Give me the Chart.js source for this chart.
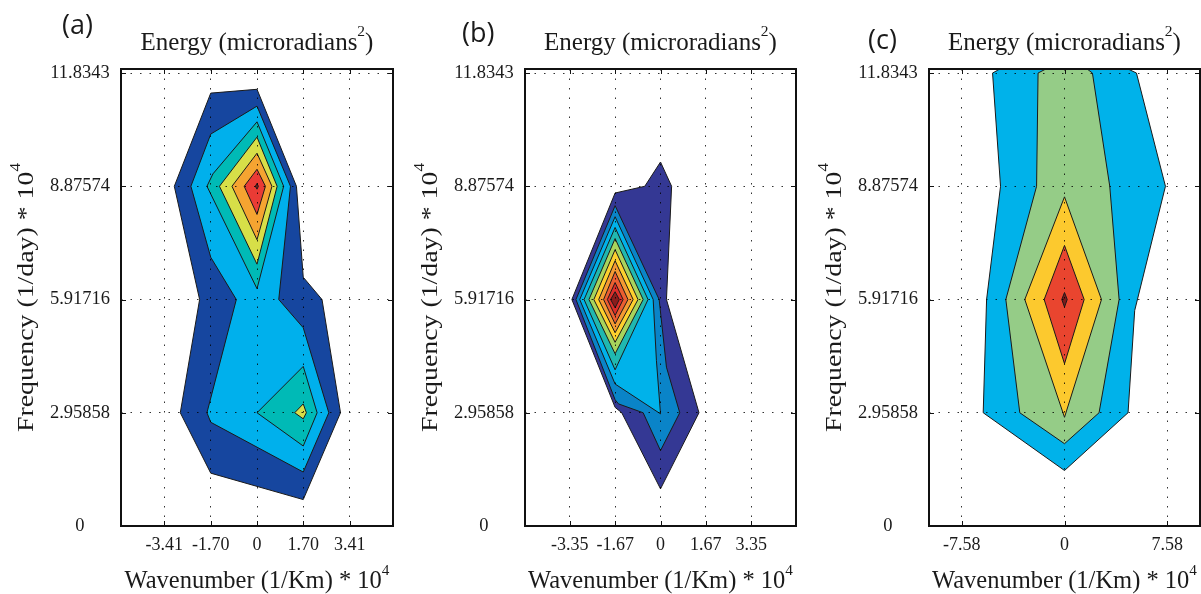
<!DOCTYPE html>
<html>
<head>
<meta charset="utf-8">
<title>Energy spectra</title>
<script src="https://cdn.jsdelivr.net/npm/chart.js@4.4.1/dist/chart.umd.min.js"></script>
<style>
  html, body { margin: 0; padding: 0; background: #ffffff; }
  body { position: relative; width: 1201px; height: 594px; overflow: hidden; }
  canvas { position: absolute; top: 0; }
</style>
</head>
<body>
<canvas id="panelA" width="400" height="594" style="left:0px"></canvas>
<canvas id="panelB" width="396" height="594" style="left:404px"></canvas>
<canvas id="panelC" width="393" height="594" style="left:808px"></canvas>
<script>
// axis ticks
const freqTicks = [0, 2.95858, 5.91716, 8.87574, 11.8343];
const freqLabels = ["0", "2.95858", "5.91716", "8.87574", "11.8343"];
const waveTicksA = [-3.41, -1.70, 0, 1.70, 3.41];
const waveLabelsA = ["-3.41", "-1.70", "0", "1.70", "3.41"];
const waveTicksB = [-3.35, -1.67, 0, 1.67, 3.35];
const waveLabelsB = ["-3.35", "-1.67", "0", "1.67", "3.35"];
const waveTicksC = [-7.58, 0, 7.58];
const waveLabelsC = ["-7.58", "0", "7.58"];

// texts
const titleParts = ["Energy (microradians", "2", ")"];
const xTitleParts = ["Wavenumber (1/Km) * 10", "4", ""];
const yTitleParts = ["Frequency (1/day) * 10", "4", ""];

// panel (a) filled contours, outer level first: [wavenumber, frequency]
const contourA1 = [[-1.70, 11.31], [0, 11.41], [1.45, 8.876], [1.70, 6.50], [2.39, 5.917], [3.07, 2.959], [1.70, 0.69], [-1.70, 1.38], [-2.82, 2.959], [-2.11, 5.917], [-3.04, 8.876]];
const contourA2 = [[0, 10.97], [-1.70, 10.24], [-2.43, 8.876], [-1.70, 7.02], [-0.76, 5.917], [-1.84, 2.959], [-1.70, 2.71], [1.70, 1.41], [2.64, 2.959], [1.70, 5.18], [0.80, 5.917], [1.23, 8.876]];
const contourA3 = [[0, 10.56], [-1.62, 9.2], [-1.84, 8.876], [0, 6.2], [0.98, 8.876]];
const contourA3b = [[1.70, 4.17], [0, 2.959], [1.70, 2.09], [2.21, 2.959]];
const contourA4 = [[0, 10.16], [-1.38, 8.876], [0, 6.84], [0.74, 8.876]];
const contourA4b = [[1.70, 3.19], [1.385, 2.959], [1.70, 2.80], [1.815, 2.959]];
const contourA5 = [[0, 9.74], [-0.92, 8.876], [0, 7.48], [0.55, 8.876]];
const contourA6 = [[0, 9.32], [-0.47, 8.876], [0, 8.14], [0.31, 8.876]];
const contourA7 = [[0, 8.95], [-0.06, 8.876], [0, 8.80], [0.05, 8.876]];

// panel (b)
const contourB1 = [[-1.675, 8.70], [-0.58, 8.876], [0, 9.51], [0.41, 8.876], [0.22, 5.917], [1.42, 2.959], [0, 0.97], [-1.43, 2.959], [-1.675, 3.10], [-3.27, 5.917]];
const contourB2 = [[-1.675, 8.37], [-3.12, 5.917], [-1.675, 3.30], [-1.55, 3.19], [-0.64, 2.959], [0, 1.97], [0.71, 2.959], [0.22, 4.15], [-0.05, 5.917]];
const contourB3 = [[-1.675, 8.08], [-2.98, 5.917], [-1.675, 3.71], [0, 2.93], [-0.15, 4.32], [-0.27, 5.917]];
const contourB4 = [[-1.675, 7.80], [-2.82, 5.917], [-1.675, 4.08], [-0.46, 5.917]];
const contourB5 = [[-1.675, 7.51], [-2.64, 5.917], [-1.675, 4.50], [-0.64, 5.917]];
const contourB6 = [[-1.675, 7.22], [-2.46, 5.917], [-1.675, 4.80], [-0.83, 5.917]];
const contourB7 = [[-1.675, 6.93], [-2.28, 5.917], [-1.675, 5.05], [-1.01, 5.917]];
const contourB8 = [[-1.675, 6.65], [-2.10, 5.917], [-1.675, 5.28], [-1.20, 5.917]];
const contourB9 = [[-1.675, 6.36], [-1.96, 5.917], [-1.675, 5.50], [-1.38, 5.917]];
const contourB10 = [[-1.675, 6.12], [-1.84, 5.917], [-1.675, 5.70], [-1.52, 5.917]];

// panel (c)
const contourC1 = [[-4.77, 11.94], [-5.31, 11.8343], [-4.72, 8.876], [-5.75, 5.917], [-6.0, 2.959], [0, 1.45], [4.69, 2.959], [5.18, 5.63], [7.45, 8.876], [5.31, 11.8343], [4.69, 11.94]];
const contourC2 = [[-1.38, 11.94], [-1.95, 11.8343], [-2.06, 8.876], [-4.33, 5.917], [-3.30, 2.959], [0, 2.15], [2.55, 2.959], [4.03, 5.917], [3.34, 8.876], [2.06, 11.8343], [1.67, 11.94]];
const contourC3 = [[0, 8.60], [-2.93, 5.917], [0, 2.84], [2.73, 5.917]];
const contourC4 = [[0, 7.33], [-1.50, 5.917], [0, 4.24], [1.45, 5.917]];
const contourC5 = [[0, 6.10], [-0.20, 5.917], [0, 5.72], [0.20, 5.917]];

const coloursA = ["#16469f", "#00b0ec", "#00bab6", "#00bab6", "#d7df48", "#d7df48", "#f5a431", "#ea3b35", "#7d1a1a"];
const coloursB = ["#343894", "#0a84c8", "#00b2ea", "#20b8b0", "#a8d45c", "#fdd02e", "#f59a32", "#ec5e30", "#dc2e2a", "#8a1c1c"];
const coloursC = ["#00b2ea", "#95cc87", "#fcc92e", "#e9452f", "#7d1a1a"];

const SERIF = '"Liberation Serif", "Times New Roman", serif';
const SANS = '"Open Sans", "Liberation Sans", sans-serif';

// text with one superscript, centred on the current origin, baseline at y=0
function drawSup(ctx, parts, size, fitWidth) {
  const mainFont = size + "px " + SERIF;
  const supFont = (size * 0.62) + "px " + SERIF;
  ctx.font = mainFont;
  const w1 = ctx.measureText(parts[0]).width;
  const w3 = ctx.measureText(parts[2]).width;
  ctx.font = supFont;
  const w2 = ctx.measureText(parts[1]).width;
  const total = w1 + w2 + w3;
  ctx.save();
  if (fitWidth) ctx.scale(fitWidth / total, 1);
  const x0 = -total / 2;
  ctx.textAlign = "left";
  ctx.textBaseline = "alphabetic";
  ctx.font = mainFont;
  ctx.fillText(parts[0], x0, 0);
  ctx.font = supFont;
  ctx.fillText(parts[1], x0 + w1, -size * 0.55);
  ctx.font = mainFont;
  if (parts[2]) ctx.fillText(parts[2], x0 + w1 + w2, 0);
  ctx.restore();
}

// box, inward ticks, titles and panel tag (matlab look)
const framePlugin = {
  id: "matlabFrame",
  afterDraw(chart, args, opts) {
    const { ctx, chartArea: a, scales: { x, y } } = chart;
    ctx.save();
    ctx.strokeStyle = "#111";
    ctx.lineWidth = 1;
    ctx.beginPath();
    x.ticks.forEach((t) => {
      const p = Math.round(x.getPixelForValue(t.value)) + 0.5;
      ctx.moveTo(p, a.bottom); ctx.lineTo(p, a.bottom - 5);
      ctx.moveTo(p, a.top); ctx.lineTo(p, a.top + 5);
    });
    y.ticks.forEach((t) => {
      const p = Math.round(y.getPixelForValue(t.value)) + 0.5;
      ctx.moveTo(a.left, p); ctx.lineTo(a.left + 5, p);
      ctx.moveTo(a.right, p); ctx.lineTo(a.right - 5, p);
    });
    ctx.stroke();
    ctx.lineWidth = 2;
    ctx.strokeRect(a.left, a.top, a.right - a.left, a.bottom - a.top);

    ctx.fillStyle = "#1a1a1a";
    const cx = (a.left + a.right) / 2;
    ctx.save(); ctx.translate(cx, 50); drawSup(ctx, opts.title, 25); ctx.restore();
    ctx.save(); ctx.translate(cx, 588); drawSup(ctx, opts.xTitle, 24.5); ctx.restore();
    ctx.save();
    ctx.translate(a.left - 88, (a.top + a.bottom) / 2);
    ctx.rotate(-Math.PI / 2);
    drawSup(ctx, opts.yTitle, 24, 269);
    ctx.restore();

    ctx.font = "27px " + SANS;
    ctx.textAlign = "left";
    ctx.textBaseline = "alphabetic";
    ctx.fillText(opts.tag, opts.tagX, opts.tagY);
    ctx.restore();
  }
};

function makePanel(id, polys, colours, xLim, xTicks, xLabels, padRight, tag, tagX, tagY) {
  const datasets = polys.map((poly, i) => ({
    data: poly.concat([poly[0]]).map(([x, y]) => ({ x: x, y: y })),
    showLine: true,
    fill: "shape",
    backgroundColor: colours[i],
    borderColor: "#1a1a1a",
    borderWidth: 1,
    pointRadius: 0,
    tension: 0,
    order: polys.length - i // outer contours drawn first
  }));

  const tickFont = { family: SERIF, size: 18 };
  new Chart(document.getElementById(id), {
    type: "scatter",
    data: { datasets: datasets },
    plugins: [framePlugin],
    options: {
      responsive: false,
      animation: false,
      events: [],
      layout: { padding: { top: 69, right: padRight, bottom: 0, left: 0 } },
      plugins: {
        legend: { display: false },
        tooltip: { enabled: false },
        matlabFrame: {
          title: titleParts, xTitle: xTitleParts, yTitle: yTitleParts,
          tag: tag, tagX: tagX, tagY: tagY
        }
      },
      scales: {
        x: {
          type: "linear",
          min: -xLim,
          max: xLim,
          grid: { color: "rgba(0,0,0,0.8)", lineWidth: 1, drawTicks: false, z: 1 },
          border: { display: false, dash: [1.5, 8] },
          afterBuildTicks: (s) => { s.ticks = xTicks.map((v) => ({ value: v })); },
          afterFit: (s) => { s.height = 68; },
          ticks: {
            padding: 8, color: "#1a1a1a", font: tickFont,
            autoSkip: false, maxRotation: 0,
            callback: (v, i) => xLabels[i]
          }
        },
        y: {
          type: "linear",
          min: 0,
          max: 11.94,
          grid: { color: "rgba(0,0,0,0.8)", lineWidth: 1, drawTicks: false, z: 1 },
          border: { display: false, dash: [1.5, 8] },
          afterBuildTicks: (s) => { s.ticks = freqTicks.map((v) => ({ value: v })); },
          afterFit: (s) => { s.width = 121; },
          ticks: {
            padding: 11, crossAlign: "center", color: "#1a1a1a", font: { family: SERIF, size: 18.5 },
            autoSkip: false,
            callback: (v, i) => freqLabels[i]
          }
        }
      }
    }
  });
}

makePanel("panelA",
  [contourA1, contourA2, contourA3, contourA3b, contourA4, contourA4b, contourA5, contourA6, contourA7],
  coloursA, 5, waveTicksA, waveLabelsA, 7, "(a)", 62, 34);
makePanel("panelB",
  [contourB1, contourB2, contourB3, contourB4, contourB5, contourB6, contourB7, contourB8, contourB9, contourB10],
  coloursB, 5, waveTicksB, waveLabelsB, 4, "(b)", 58, 42);
makePanel("panelC",
  [contourC1, contourC2, contourC3, contourC4, contourC5],
  coloursC, 10, waveTicksC, waveLabelsC, 1, "(c)", 60, 49);
</script>
</body>
</html>
